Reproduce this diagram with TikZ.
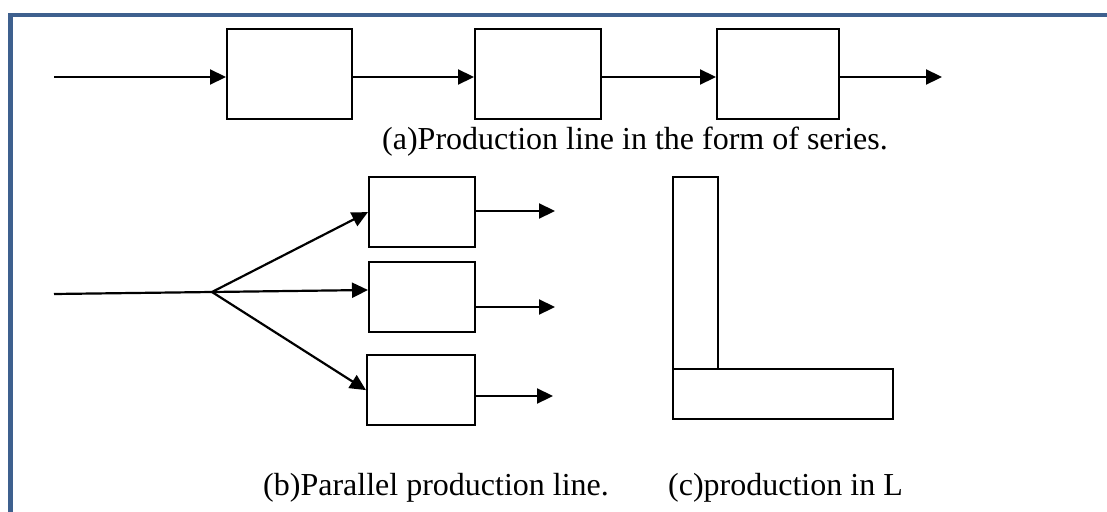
\documentclass[tikz,border=0pt]{standalone}
\usepackage{fontspec}
\setmainfont{Liberation Serif}
\usetikzlibrary{arrows.meta}
\definecolor{framecol}{RGB}{62,96,142}
\begin{document}
\begin{tikzpicture}[x=1pt,y=-1pt,
  box/.style={draw, line width=2.2pt, inner sep=0pt, anchor=north west},
  conn/.style={line width=2.2pt, -{Triangle[length=16pt,width=15pt]}},
  plain/.style={line width=2.2pt},
  caption/.style={anchor=base west, inner sep=0pt, font=\fontsize{32pt}{38pt}\selectfont},
  frame/.style={draw=framecol, line width=4.7pt}]
\useasboundingbox (0,0) rectangle (1107,511);
% frame
\draw[frame] (10.5,512) -- (10.5,15) -- (1108,15);
% (a) series
\node[box, minimum width=125pt, minimum height=90pt] (B1) at (226,28) {};
\node[box, minimum width=126pt, minimum height=90pt] (B2) at (474,28) {};
\node[box, minimum width=122pt, minimum height=90pt] (B3) at (716,28) {};
\coordinate (sin) at (54,77);
\coordinate (sout) at (942,77);
\draw[conn] (sin) -- (sin -| B1.west);
\draw[conn] (B1.east |- sin) -- (B2.west |- sin);
\draw[conn] (B2.east |- sin) -- (B3.west |- sin);
\draw[conn] (B3.east |- sin) -- (sout);
\node[caption] (ta) at (382,149) {(a)Production line in the form of series.};
% (b) parallel
\node[box, minimum width=106pt, minimum height=70pt] (P1) at (368,176) {};
\node[box, minimum width=106pt, minimum height=70pt] (P2) at (368,261) {};
\node[box, minimum width=108pt, minimum height=70pt] (P3) at (366,354) {};
\coordinate (pin) at (54,294);
\coordinate (split) at (212,292);
\coordinate (y290) at (0,290);
\draw[plain] (pin) -- (split);
\draw[conn] (split) -- (P1.west);
\draw[conn] (split) -- (P2.west |- y290);
\draw[conn] (split) -- (P3.west);
\coordinate (o1) at (555,211);
\coordinate (o2) at (555,307);
\coordinate (o3) at (553,396);
\draw[conn] (P1.east |- o1) -- (o1);
\draw[conn] (P2.east |- o2) -- (o2);
\draw[conn] (P3.east |- o3) -- (o3);
\node[caption] (tb) at (263,495) {(b)Parallel production line.};
% (c) L
\node[box, minimum width=45pt, minimum height=192pt] (LV) at (672,176) {};
\node[box, minimum width=220pt, minimum height=50pt] (LH) at (672,368) {};
\node[caption] (tc) at (668,495) {(c)production in L};
\end{tikzpicture}
\end{document}
